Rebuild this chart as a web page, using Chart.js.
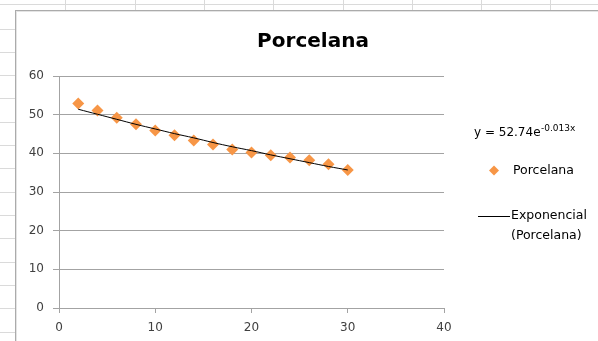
<!DOCTYPE html>
<html>
<head>
<meta charset="utf-8">
<script src="https://cdn.jsdelivr.net/npm/chart.js@4.4.1/dist/chart.umd.min.js"></script>
<style>
  html, body { margin: 0; padding: 0; background: #fff; }
  canvas { display: block; }
</style>
</head>
<body>
<canvas id="chart" width="598" height="341"></canvas>
<script>
// datos
const xValues = [2, 4, 6, 8, 10, 12, 14, 16, 18, 20, 22, 24, 26, 28, 30];
const porcelana = [52.9, 51.1, 49.2, 47.5, 45.9, 44.7, 43.3, 42.3, 41.0, 40.2, 39.5, 38.9, 38.2, 37.2, 35.7];
// linea de tendencia exponencial (y = 52.74e^-0.013x), valores leidos
const tendencia = [51.4, 50.1, 48.8, 47.5, 46.3, 45.1, 44.0, 42.8, 41.7, 40.7, 39.6, 38.6, 37.6, 36.6, 35.7];
const xTicks = [0, 10, 20, 30, 40];
const yTicks = [0, 10, 20, 30, 40, 50, 60];

const ORANGE = '#F79646';
const GRID = '#a3a3a3';
const FONT = '"DejaVu Sans", sans-serif';

// fondo de hoja de calculo + marco + titulo + leyenda
const decor = {
    id: 'decor',
    beforeDraw(chart) {
        const ctx = chart.ctx;
        ctx.save();
        ctx.fillStyle = '#fff';
        ctx.fillRect(0, 0, chart.width, chart.height);
        ctx.strokeStyle = '#dadada';
        ctx.lineWidth = 1;
        ctx.beginPath();
        ctx.moveTo(0, 4.5); ctx.lineTo(chart.width, 4.5);
        [65.5, 135.5, 204.5, 273.5, 343.5, 412.5, 481.5, 550.5].forEach(x => {
            ctx.moveTo(x, 0); ctx.lineTo(x, 11);
        });
        for (let y = 28.5; y < chart.height; y += 23.33) {
            const yy = Math.round(y) + 0.5;
            ctx.moveTo(0, yy); ctx.lineTo(15, yy);
        }
        ctx.stroke();
        // marco del grafico
        ctx.strokeStyle = '#ababab';
        ctx.strokeRect(15.5, 10.5, chart.width + 20, chart.height + 20);
        ctx.strokeStyle = '#e4e4e4';
        ctx.strokeRect(16.5, 11.5, chart.width + 20, chart.height + 20);
        ctx.restore();
    },
    afterDraw(chart) {
        const ctx = chart.ctx;
        ctx.save();
        // titulo
        ctx.fillStyle = '#000';
        ctx.font = 'bold 20px ' + FONT;
        ctx.textAlign = 'center';
        ctx.textBaseline = 'middle';
        ctx.fillText('Porcelana', 313, 42);

        // ecuacion
        ctx.textAlign = 'left';
        ctx.textBaseline = 'alphabetic';
        ctx.font = '12px ' + FONT;
        const eq = 'y = 52.74e';
        ctx.fillText(eq, 474, 136);
        const w = ctx.measureText(eq).width;
        ctx.font = '9px ' + FONT;
        ctx.fillText('-0.013x', 474 + w + 0.5, 131);

        // leyenda: serie
        ctx.fillStyle = ORANGE;
        ctx.beginPath();
        ctx.moveTo(494, 165.5); ctx.lineTo(499, 170.5); ctx.lineTo(494, 175.5); ctx.lineTo(489, 170.5);
        ctx.closePath();
        ctx.fill();
        ctx.fillStyle = '#000';
        ctx.font = '12.5px ' + FONT;
        ctx.textBaseline = 'middle';
        ctx.fillText('Porcelana', 513, 171);

        // leyenda: tendencia
        ctx.strokeStyle = '#000';
        ctx.lineWidth = 1;
        ctx.beginPath();
        ctx.moveTo(478, 216.5); ctx.lineTo(510, 216.5);
        ctx.stroke();
        ctx.fillText('Exponencial', 511, 216);
        ctx.fillText('(Porcelana)', 511, 236);
        ctx.restore();
    }
};

const ctx = document.getElementById('chart').getContext('2d');
new Chart(ctx, {
    type: 'scatter',
    data: {
        datasets: [
            {
                label: 'Porcelana',
                data: xValues.map((x, i) => ({ x, y: porcelana[i] })),
                pointStyle: 'rectRot',
                pointRadius: 6,
                pointHoverRadius: 6,
                backgroundColor: ORANGE,
                borderColor: ORANGE,
                borderWidth: 0,
                order: 2
            },
            {
                type: 'line',
                label: 'Exponencial (Porcelana)',
                data: xValues.map((x, i) => ({ x, y: tendencia[i] })),
                borderColor: '#000',
                borderWidth: 1,
                pointRadius: 0,
                fill: false,
                tension: 0.4,
                order: 1
            }
        ]
    },
    options: {
        responsive: false,
        animation: false,
        layout: { padding: { left: 0, top: 76, right: 154, bottom: 0 } },
        plugins: { legend: { display: false }, tooltip: { enabled: false }, title: { display: false } },
        scales: {
            x: {
                type: 'linear',
                min: 0, max: 40,
                afterFit: s => { s.height = 33; },
                afterBuildTicks: s => { s.ticks = xTicks.map(v => ({ value: v })); },
                ticks: { color: '#404040', font: { family: FONT, size: 12 }, padding: 8, maxRotation: 0 },
                grid: { drawOnChartArea: false, drawTicks: true, tickLength: 5, color: GRID },
                border: { color: GRID, width: 1 }
            },
            y: {
                min: 0, max: 60,
                afterFit: s => { s.width = 59; },
                afterBuildTicks: s => { s.ticks = yTicks.map(v => ({ value: v })); },
                ticks: { color: '#404040', font: { family: FONT, size: 12 }, padding: 9 },
                grid: { color: GRID, tickLength: 6 },
                border: { color: GRID, width: 1 }
            }
        }
    },
    plugins: [decor]
});
</script>
</body>
</html>
